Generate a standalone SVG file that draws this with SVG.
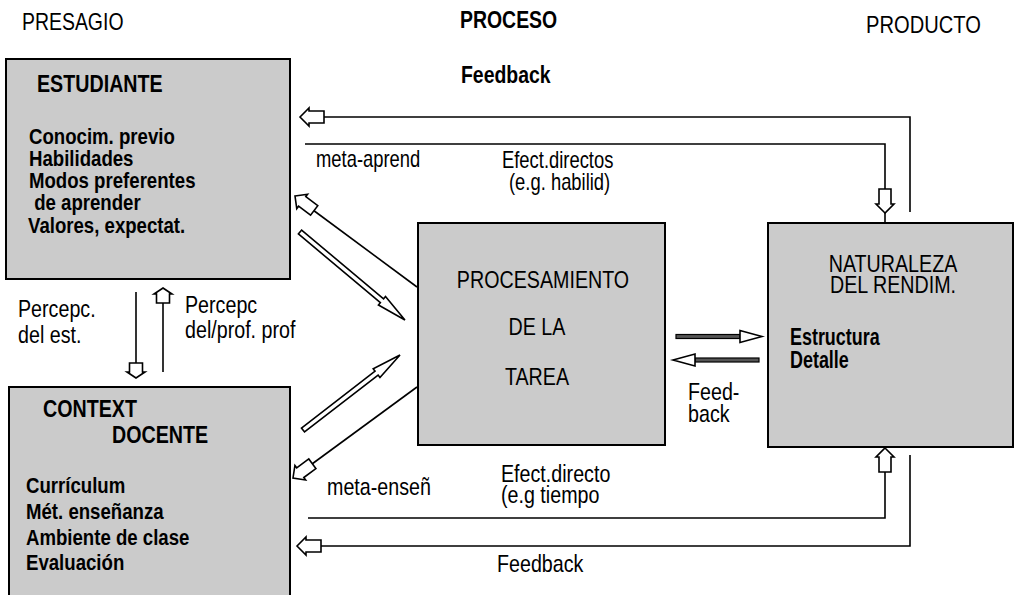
<svg xmlns="http://www.w3.org/2000/svg" width="1015" height="595" viewBox="0 0 1015 595">
<style>
.box{fill:#cbcbcb;stroke:#000;stroke-width:2}
text{font-family:"Liberation Sans",Arial,sans-serif;fill:#000}
.lbl{font-size:24px}
.sm{font-size:23px}
.b{font-weight:bold}
.bx{font-size:23px;font-weight:bold}
.tt{font-size:24px;font-weight:bold}
.ln{fill:none;stroke:#000;stroke-width:1.6}
.ah{fill:#fff;stroke:#000;stroke-width:1.6;stroke-linejoin:miter}
.sh{fill:#555;stroke:#000;stroke-width:1.2}
</style>
<defs>
<path id="ha" d="M0,0 L9,-9 L9,-6 L24,-6 L24,6 L9,6 L9,9 Z"/>
<path id="hs" d="M0,0 L6,-9 L6,-6.5 L15,-6.5 L15,6.5 L6,6.5 L6,9 Z"/>
</defs>
<rect width="1015" height="595" fill="#fff"/>

<g id="headers">
<text class="lbl" transform="translate(22,30) scale(0.81,1)">PRESAGIO</text>
<text class="lbl b" transform="translate(460,28) scale(0.81,1)">PROCESO</text>
<text class="lbl" transform="translate(866,33) scale(0.84,1)">PRODUCTO</text>
</g>

<g id="estudiante">
<rect class="box" x="6" y="59" width="284" height="220"/>
<text class="tt" transform="translate(37,92) scale(0.82,1)">ESTUDIANTE</text>
<text class="bx" transform="translate(29,144) scale(0.81,1)">Conocim. previo</text>
<text class="bx" transform="translate(29,166) scale(0.81,1)">Habilidades</text>
<text class="bx" transform="translate(29,188) scale(0.81,1)">Modos preferentes</text>
<text class="bx" transform="translate(29,210) scale(0.81,1)" xml:space="preserve"> de aprender</text>
<text class="bx" transform="translate(28,233) scale(0.81,1)">Valores, expectat.</text>
</g>

<g id="contexto">
<rect class="box" x="9" y="387" width="281" height="215"/>
<text class="tt" transform="translate(43,417) scale(0.82,1)">CONTEXT</text>
<text class="tt" transform="translate(112,443) scale(0.82,1)">DOCENTE</text>
<text class="bx" transform="translate(26,493) scale(0.81,1)">Currículum</text>
<text class="bx" transform="translate(26,519) scale(0.81,1)">Mét. enseñanza</text>
<text class="bx" transform="translate(26,545) scale(0.81,1)">Ambiente de clase</text>
<text class="bx" transform="translate(26,570) scale(0.81,1)">Evaluación</text>
</g>

<g id="procesamiento">
<rect class="box" x="418" y="223" width="247" height="222"/>
<text class="lbl" text-anchor="middle" transform="translate(543,288) scale(0.82,1)">PROCESAMIENTO</text>
<text class="lbl" text-anchor="middle" transform="translate(537,335) scale(0.82,1)">DE LA</text>
<text class="lbl" text-anchor="middle" transform="translate(537,385) scale(0.82,1)">TAREA</text>
</g>

<g id="rendimiento">
<rect class="box" x="768" y="223" width="245" height="224"/>
<text class="lbl" text-anchor="middle" transform="translate(893,272) scale(0.82,1)">NATURALEZA</text>
<text class="lbl" text-anchor="middle" transform="translate(893,293) scale(0.82,1)">DEL RENDIM.</text>
<text class="bx" transform="translate(790,345) scale(0.78,1)">Estructura</text>
<text class="bx" transform="translate(790,368) scale(0.78,1)">Detalle</text>
</g>

<g id="connectors">
<polyline class="ln" points="910,212 910,117 324,117"/>
<use href="#ha" class="ah" transform="translate(300,117)"/>
<polyline class="ln" points="305,144 885,144 885,190"/>
<use href="#ha" class="ah" transform="translate(885,213) rotate(-90)"/>
<line class="ln" x1="885" y1="213" x2="885" y2="223"/>
<use href="#ha" class="ah" transform="translate(885,448) rotate(90)"/>
<polyline class="ln" points="885,472 885,518 308,518"/>
<polyline class="ln" points="910,455 910,546 321,546"/>
<use href="#ha" class="ah" transform="translate(297,546)"/>
<line class="ln" x1="136" y1="292" x2="136" y2="363"/>
<use href="#hs" class="ah" transform="translate(136,378) rotate(-90)"/>
<use href="#hs" class="ah" transform="translate(163,288) rotate(90)"/>
<line class="ln" x1="163" y1="303" x2="163" y2="372"/>
<line class="ln" x1="313" y1="210" x2="417" y2="287"/>
<use href="#ha" class="ah" transform="translate(295,196) rotate(37)"/>
<line class="ln" x1="312" y1="464" x2="417" y2="387"/>
<use href="#ha" class="ah" transform="translate(293,478) rotate(-36.3)"/>
<path class="ah" transform="translate(300,232) rotate(40)" d="M0,-2.5 H107 V-5.5 L137,0 L107,5.5 V2.5 H0 Z"/>
<path class="ah" transform="translate(303,430) rotate(-37.7)" d="M0,-2.5 H93 V-5.5 L122.6,0 L93,5.5 V2.5 H0 Z"/>
<rect class="sh" x="676" y="334.5" width="64" height="4"/>
<polygon class="ah" points="740,330.5 762,336.5 740,342.5"/>
<rect class="sh" x="695" y="358" width="64" height="4"/>
<polygon class="ah" points="673,360 695,354 695,366"/>
</g>

<g id="labels">
<text class="lbl b" transform="translate(461,83) scale(0.81,1)">Feedback</text>
<text class="sm" transform="translate(316,167) scale(0.8,1)">meta-aprend</text>
<text class="sm" transform="translate(502,168) scale(0.8,1)">Efect.directos</text>
<text class="sm" transform="translate(509,190) scale(0.8,1)">(e.g. habilid)</text>
<text class="lbl" transform="translate(18,317) scale(0.82,1)">Percepc.</text>
<text class="lbl" transform="translate(18,343) scale(0.82,1)">del est.</text>
<text class="lbl" transform="translate(185,313) scale(0.82,1)">Percepc</text>
<text class="lbl" transform="translate(185,338) scale(0.82,1)">del/prof. prof</text>
<text class="lbl" transform="translate(688,400) scale(0.82,1)">Feed-</text>
<text class="lbl" transform="translate(688,422) scale(0.82,1)">back</text>
<text class="lbl" transform="translate(501,482) scale(0.82,1)">Efect.directo</text>
<text class="lbl" transform="translate(501,503) scale(0.82,1)">(e.g tiempo</text>
<text class="lbl" transform="translate(327,495) scale(0.82,1)">meta-enseñ</text>
<text class="lbl" transform="translate(497,572) scale(0.82,1)">Feedback</text>
</g>
</svg>
